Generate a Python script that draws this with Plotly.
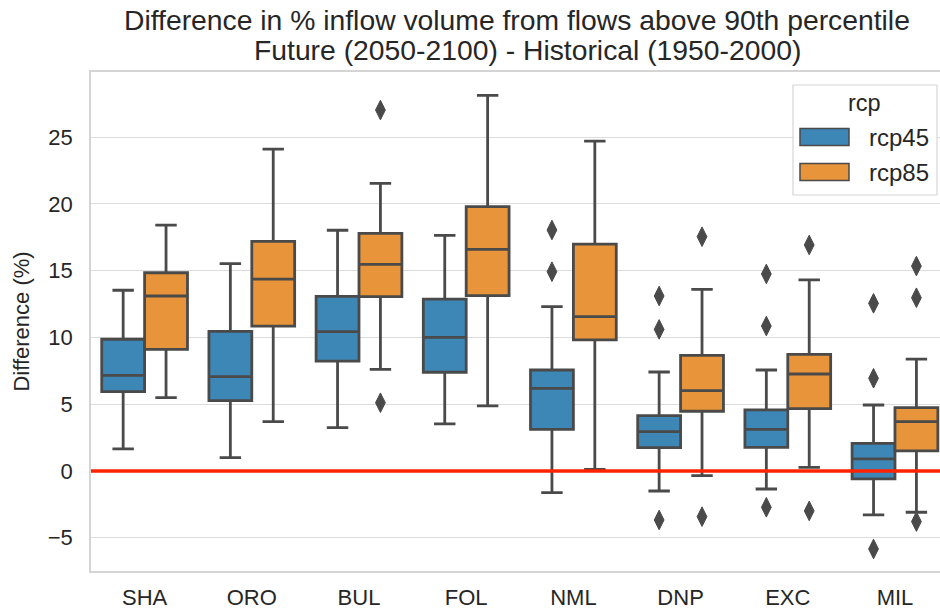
import plotly.graph_objects as go

# ---------------- data ----------------
categories = ["SHA", "ORO", "BUL", "FOL", "NML", "DNP", "EXC", "MIL"]
series_names = ["rcp45", "rcp85"]

rcp45_lower = [1.65, 1.00, 3.24, 3.52, -1.62, -1.50, -1.35, -3.29]
rcp45_q1 = [5.94, 5.26, 8.23, 7.39, 3.12, 1.75, 1.77, -0.60]
rcp45_median = [7.16, 7.06, 10.43, 10.00, 6.19, 2.94, 3.12, 0.90]
rcp45_q3 = [9.86, 10.45, 13.07, 12.87, 7.56, 4.14, 4.57, 2.07]
rcp45_upper = [13.53, 15.52, 18.02, 17.64, 12.30, 7.41, 7.56, 4.94]
rcp45_outliers = [[], [], [], [], [18.04, 14.92], [13.10, 10.60, -3.67],
                  [14.75, 10.85, -2.72], [12.55, 6.94, -5.84]]

rcp85_lower = [5.49, 3.69, 7.61, 4.87, 0.12, -0.35, 0.27, -3.09]
rcp85_q1 = [9.11, 10.85, 13.05, 13.13, 9.81, 4.47, 4.66, 1.50]
rcp85_median = [13.10, 14.37, 15.47, 16.59, 11.55, 6.01, 7.26, 3.69]
rcp85_q3 = [14.84, 17.19, 17.79, 19.79, 16.99, 8.66, 8.73, 4.74]
rcp85_upper = [18.41, 24.10, 21.53, 28.12, 24.70, 13.60, 14.30, 8.38]
rcp85_outliers = [[], [], [27.02, 5.11], [], [], [17.54, -3.42],
                  [16.92, -2.99], [15.34, 12.97, -3.79]]

y_ticks = [-5, 0, 5, 10, 15, 20, 25]

title_line1 = "Difference in % inflow volume from flows above 90th percentile"
title_line2 = "Future (2050-2100) - Historical (1950-2000)"
y_label = "Difference (%)"
legend_title = "rcp"

# ---------------- style ----------------
colors = {"rcp45": "#3d87b6", "rcp85": "#e8943a"}
edge = "#4a4a4a"
text_color = "#262626"
font_family = "Liberation Sans, Arial, sans-serif"
offsets = {"rcp45": -0.2, "rcp85": 0.2}

stats = {
    "rcp45": (rcp45_lower, rcp45_q1, rcp45_median, rcp45_q3, rcp45_upper, rcp45_outliers),
    "rcp85": (rcp85_lower, rcp85_q1, rcp85_median, rcp85_q3, rcp85_upper, rcp85_outliers),
}

fig = go.Figure()
for name in series_names:
    lo, q1, med, q3, up, outs = stats[name]
    pos = [i + offsets[name] for i in range(len(categories))]
    fig.add_trace(go.Box(
        name=name, x=pos, q1=q1, median=med, q3=q3,
        lowerfence=lo, upperfence=up, width=0.4, whiskerwidth=0.5,
        fillcolor=colors[name], line=dict(color=edge, width=2.8),
        boxpoints=False, showlegend=False,
    ))
    ox, oy = [], []
    for i, vals in enumerate(outs):
        for v in vals:
            ox.append(i + offsets[name])
            oy.append(v)
    fig.add_trace(go.Scatter(
        x=ox, y=oy, mode="markers", showlegend=False,
        marker=dict(symbol="diamond-tall", size=14, color=edge,
                    line=dict(color=edge, width=1)),
    ))

# red zero line
fig.add_shape(type="line", xref="paper", x0=0, x1=1, yref="y", y0=0, y1=0,
              line=dict(color="#ff2200", width=3.5), layer="above")

# ---------------- layout ----------------
W, H = 940, 609
L, T, B = 91, 72, 38
pw, ph = W - L, H - T - B


def px(xpix):
    return (xpix - L) / pw


def py(ypix):
    return (H - B - ypix) / ph


annotations = [
    dict(text=title_line1, x=px(517), y=py(20), xref="paper", yref="paper",
         xanchor="center", yanchor="middle", showarrow=False,
         font=dict(size=28.3, color=text_color, family=font_family)),
    dict(text=title_line2, x=px(527), y=py(50), xref="paper", yref="paper",
         xanchor="center", yanchor="middle", showarrow=False,
         font=dict(size=28.3, color=text_color, family=font_family)),
    dict(text=legend_title, x=px(864), y=py(103), xref="paper", yref="paper",
         xanchor="center", yanchor="middle", showarrow=False,
         font=dict(size=23.5, color=text_color, family=font_family)),
]

shapes = [
    dict(type="rect", xref="paper", yref="paper", x0=px(793), x1=px(937),
         y0=py(195), y1=py(85), line=dict(color="#d6d6d6", width=1.2),
         fillcolor="rgba(255,255,255,0.85)", layer="above"),
]
legend_rows = {"rcp45": 137, "rcp85": 172}
for name in series_names:
    yc = legend_rows[name]
    shapes.append(dict(type="rect", xref="paper", yref="paper",
                       x0=px(800), x1=px(849), y0=py(yc + 8.5), y1=py(yc - 8.5),
                       line=dict(color=edge, width=1.5), fillcolor=colors[name],
                       layer="above"))
    annotations.append(dict(text=name, x=px(867), y=py(yc), xref="paper", yref="paper",
                            xanchor="left", yanchor="middle", showarrow=False,
                            font=dict(size=24, color=text_color, family=font_family)))

fig.update_layout(
    width=W, height=H,
    margin=dict(l=L, r=0, t=T, b=B, autoexpand=False),
    paper_bgcolor="white", plot_bgcolor="white",
    font=dict(family=font_family, color=text_color, size=22),
    annotations=annotations,
    shapes=fig.layout.shapes + tuple(shapes),
    xaxis=dict(
        range=[-0.5, 7.42], tickmode="array",
        tickvals=list(range(len(categories))), ticktext=categories,
        showgrid=False, zeroline=False, showline=True, mirror=True,
        linecolor="#d4d4d4", linewidth=1.5, ticks="",
        ticklabelstandoff=6, tickfont=dict(size=22, color=text_color),
    ),
    yaxis=dict(
        range=[-7.49, 29.87], tickmode="array", tickvals=y_ticks,
        showgrid=True, gridcolor="#dcdcdc", gridwidth=1.2,
        zeroline=False, showline=True, linecolor="#d4d4d4", linewidth=1.5,
        ticks="", ticklabelstandoff=12, tickfont=dict(size=22, color=text_color),
        title=dict(text=y_label, standoff=12, font=dict(size=22, color=text_color)),
    ),
    showlegend=False,
)

# remove the browser's default 8px body margin so the 940x609 figure fills the window
fig.write_html("out.html", config={"displayModeBar": False},
               post_script="document.body.style.margin='0px';")
